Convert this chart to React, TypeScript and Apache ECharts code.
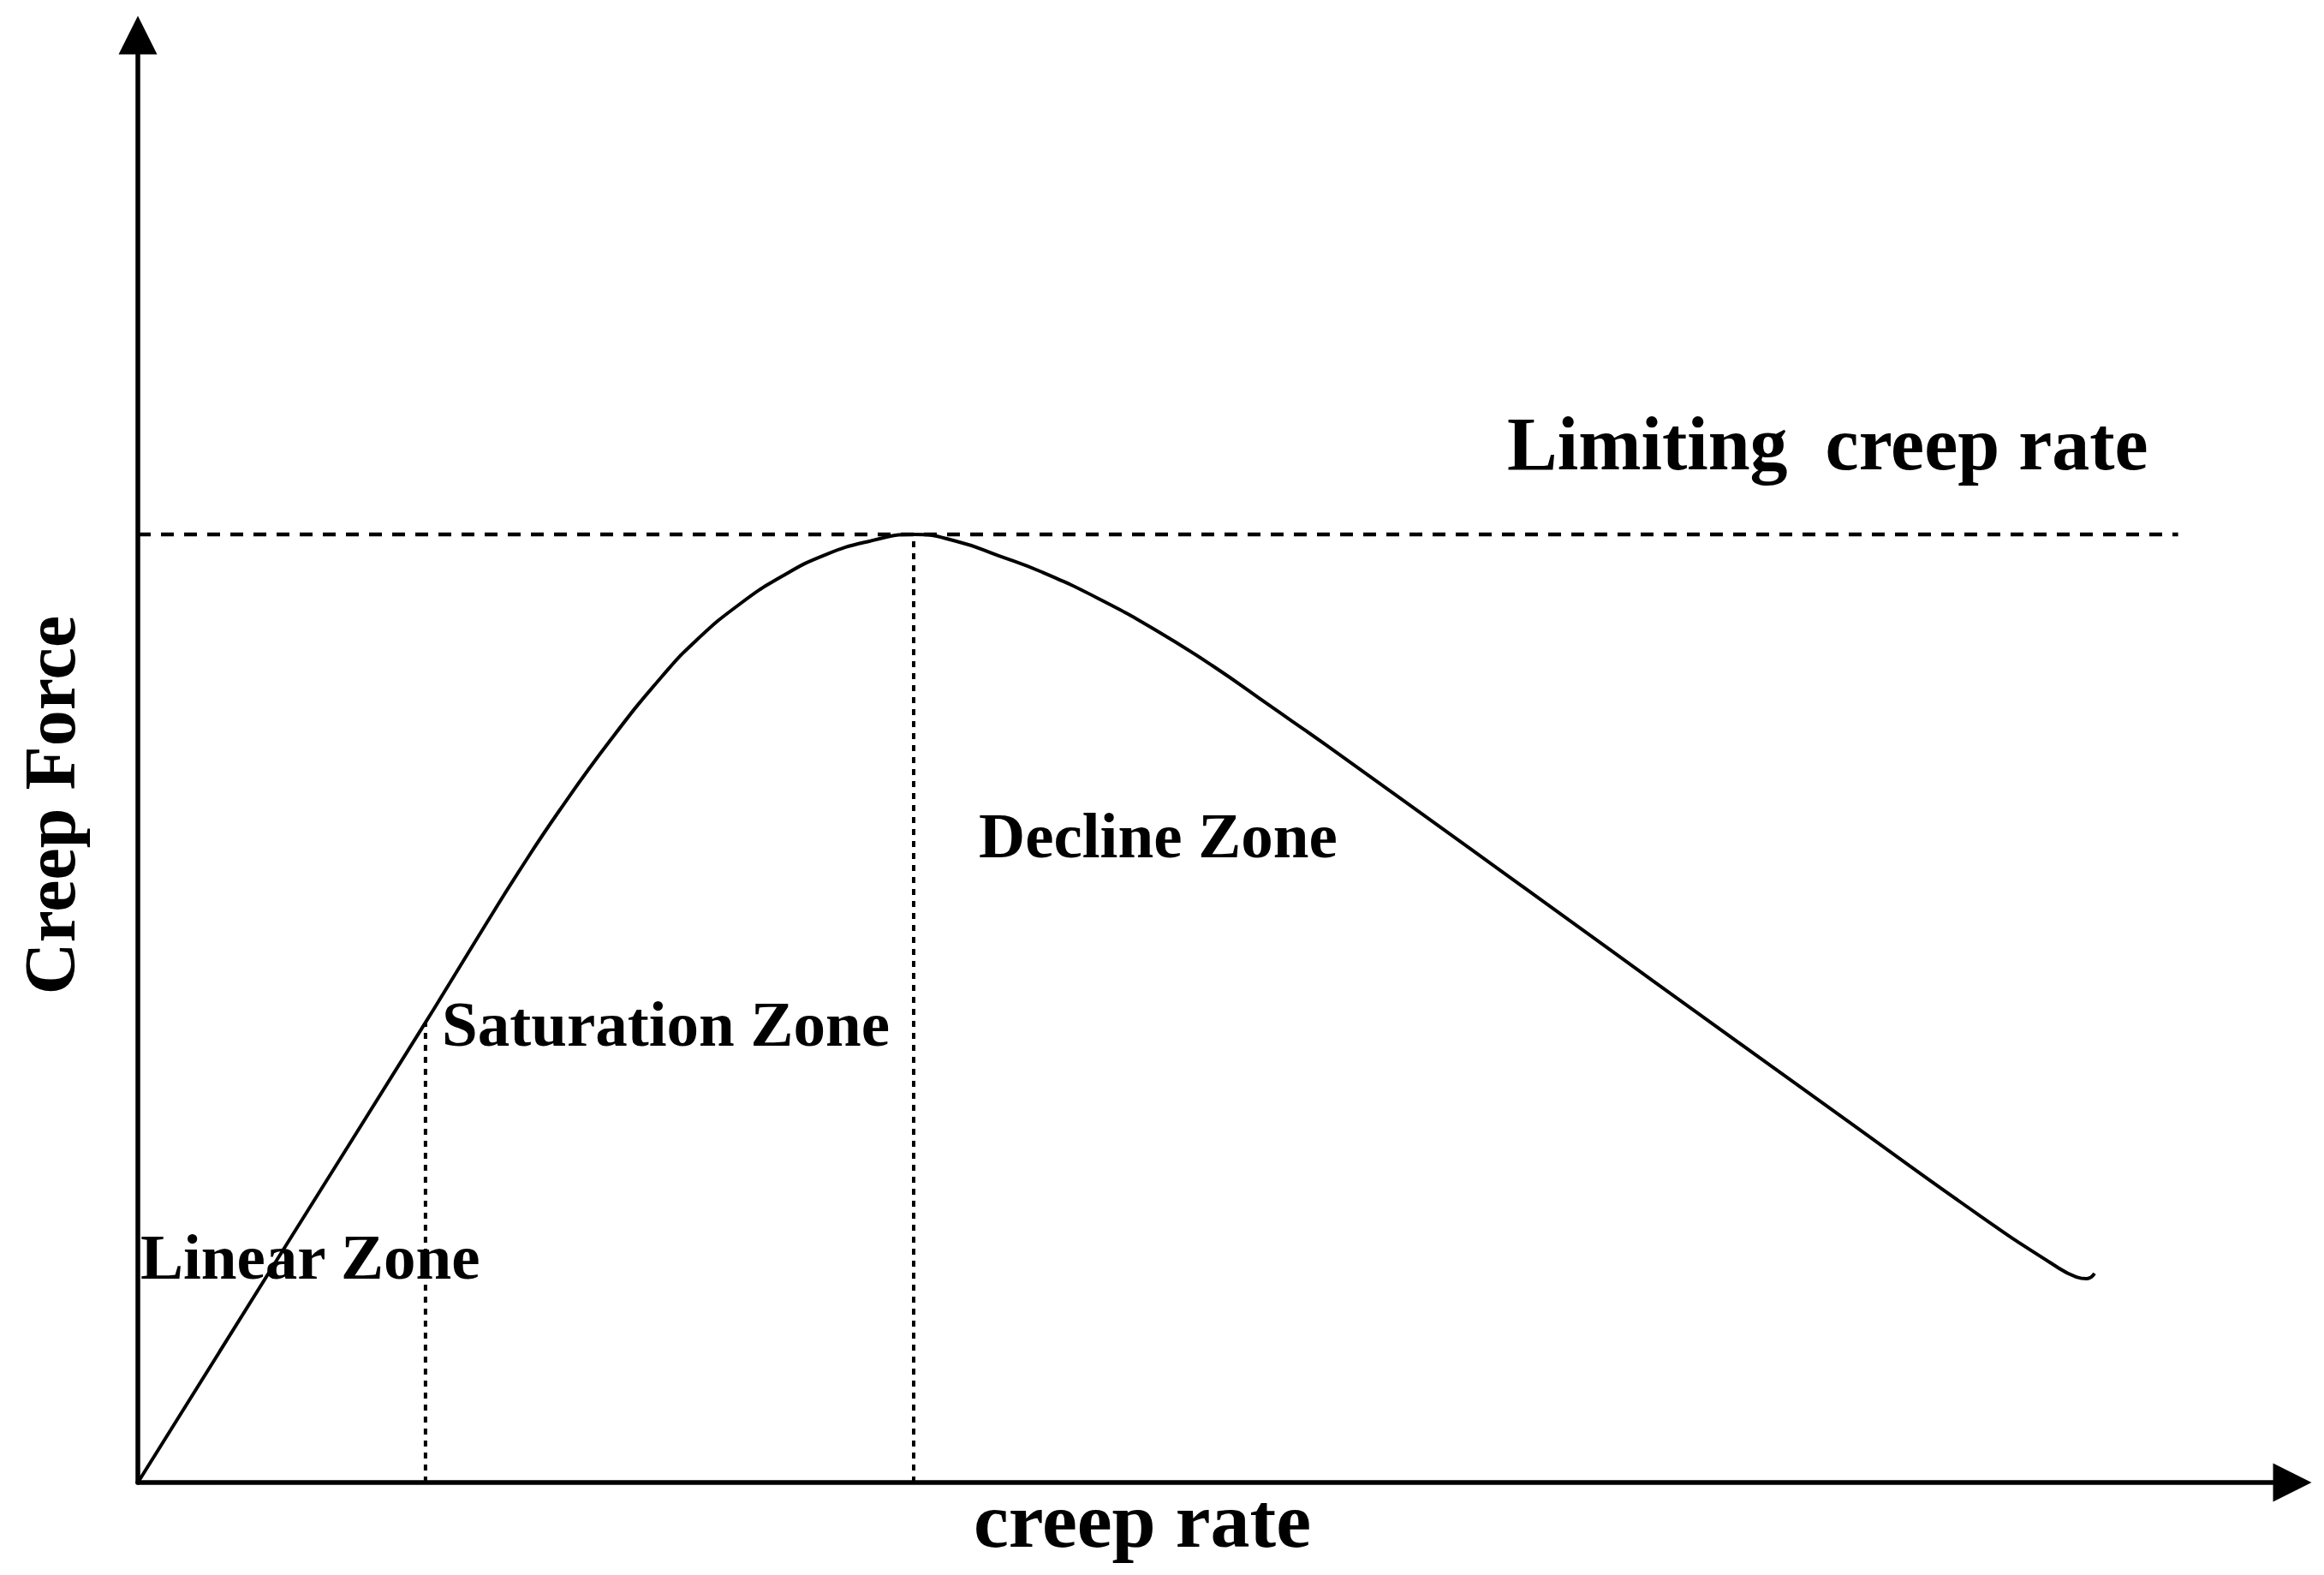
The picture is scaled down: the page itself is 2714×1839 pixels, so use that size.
import React, { useEffect, useRef } from "react";
import * as echarts from "echarts";

// Creep force characteristic (x: creep rate, y: creep force)
const creepRate = [0, 6.68, 13.35, 14.79, 16.18, 17.57, 19.55, 21.94, 24.32, 25.91, 27.9, 29.89, 31.88, 33.95, 36.01, 37.99, 39.98, 41.97, 44.59, 47.26, 49.92, 52.54, 55.21, 61.84, 68.44, 72.3, 78.93, 85.53, 88.87, 89.98, 90.46, 90.82];
const creepForce = [0, 15.92, 31.78, 35.27, 38.64, 41.95, 46.39, 51.3, 55.68, 58.17, 60.65, 62.6, 64.08, 65.03, 65.5, 65.03, 64.02, 62.9, 61.07, 58.88, 56.39, 53.67, 50.89, 43.79, 36.69, 32.54, 25.44, 18.4, 15.09, 14.2, 14.08, 14.44];

// Zone boundaries
const saturationRate = 13.35;
const saturationForce = 31.78;
const peakRate = 36.01;
const peakForce = 65.5;
const limitingLineEnd = 94.7;

const axisMax = 100;

const FONT = '"Liberation Serif", "Times New Roman", serif';

export default function App() {
  const ref = useRef<HTMLDivElement>(null);

  useEffect(() => {
    if (!ref.current) return;
    const chart = echarts.init(ref.current, undefined, { renderer: "svg" });

    const curve = creepRate.map((x, i) => [x, creepForce[i]]);

    const axisCommon = {
      type: "value" as const,
      min: 0,
      max: axisMax,
      splitLine: { show: false },
      axisTick: { show: false },
      axisLabel: { show: false },
      axisLine: {
        show: true,
        symbol: ["none", "triangle"],
        symbolSize: [45, 45],
        lineStyle: { color: "#000", width: 5.5 },
      },
    };

    const textStyle = (size: number) => ({
      fontFamily: FONT,
      fontWeight: "bold",
      fontSize: size,
      fill: "#000",
    });

    chart.setOption({
      animation: false,
      backgroundColor: "#fff",
      grid: { left: 161, right: 37, top: 41, bottom: 108, containLabel: false },
      xAxis: { ...axisCommon },
      yAxis: { ...axisCommon },
      series: [
        {
          type: "line",
          data: curve,
          smooth: 0.5,
          symbol: "none",
          lineStyle: { color: "#000", width: 4 },
          z: 5,
        },
        {
          type: "line",
          data: [
            [0, peakForce],
            [limitingLineEnd, peakForce],
          ],
          symbol: "none",
          lineStyle: { color: "#000", width: 4.5, type: [15, 12] },
        },
        {
          type: "line",
          data: [
            [saturationRate, 0],
            [saturationRate, saturationForce],
          ],
          symbol: "none",
          lineStyle: { color: "#000", width: 4, type: [7, 7] },
        },
        {
          type: "line",
          data: [
            [peakRate, 0],
            [peakRate, peakForce],
          ],
          symbol: "none",
          lineStyle: { color: "#000", width: 4, type: [7, 7] },
        },
      ],
      graphic: [
        {
          type: "text",
          x: 1760,
          y: 518,
          style: { text: "Limiting  creep rate", textAlign: "left", textVerticalAlign: "middle", ...textStyle(88) },
        },
        {
          type: "text",
          x: 1143,
          y: 975,
          style: { text: "Decline Zone", textAlign: "left", textVerticalAlign: "middle", ...textStyle(75) },
        },
        {
          type: "text",
          x: 516,
          y: 1195,
          style: { text: "Saturation Zone", textAlign: "left", textVerticalAlign: "middle", ...textStyle(75) },
        },
        {
          type: "text",
          x: 164,
          y: 1467,
          style: { text: "Linear Zone", textAlign: "left", textVerticalAlign: "middle", ...textStyle(75) },
        },
        {
          type: "text",
          x: 1334,
          y: 1775,
          style: { text: "creep rate", textAlign: "center", textVerticalAlign: "middle", ...textStyle(92) },
        },
        {
          type: "text",
          x: 58,
          y: 940,
          rotation: Math.PI / 2,
          style: { text: "Creep Force", textAlign: "center", textVerticalAlign: "middle", ...textStyle(84) },
        },
      ],
    });

    return () => chart.dispose();
  }, []);

  return (
    <div
      ref={ref}
      style={{ position: "absolute", left: 0, top: 0, width: 2714, height: 1839, background: "#fff" }}
    />
  );
}
